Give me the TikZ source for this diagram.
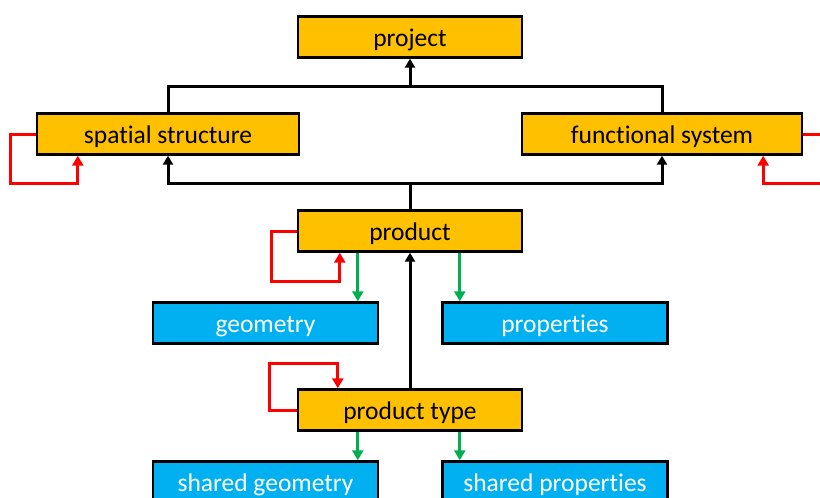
\documentclass[tikz,border=0pt]{standalone}
\usepackage{fontspec}
\setmainfont{Carlito}[Ligatures={NoCommon}]
\usetikzlibrary{arrows.meta,calc}
\definecolor{boxorange}{HTML}{FFC000}
\definecolor{boxblue}{HTML}{00B0F0}
\definecolor{arrgreen}{HTML}{00B050}
\definecolor{arrred}{HTML}{FF0000}
\tikzset{
  orangebox/.style={draw=black, line width=2.4pt, fill=boxorange, minimum width=224pt, minimum height=41pt, inner sep=0pt, text=black, font=\fontsize{25.5}{30}\selectfont, text height=19pt, text depth=1pt},
  widebox/.style={orangebox, minimum width=262pt},
  bluebox/.style={orangebox, fill=boxblue, minimum width=225pt, text=white},
  blackline/.style={draw=black, line width=3pt},
  blackarrow/.style={blackline, -{Triangle[width=10pt,length=9pt]}},
  redarrow/.style={draw=arrred, line width=3pt, -{Triangle[width=11pt,length=10pt]}},
  greenarrow/.style={draw=arrgreen, line width=2.8pt, -{Triangle[width=11pt,length=10pt]}},
}
\begin{document}
\begin{tikzpicture}[x=1pt,y=-1pt]
\useasboundingbox (0,0) rectangle (820,498);
\node[orangebox] (project) at (410,37) {project};
\node[widebox] (spatial) at (168,134) {spatial structure};
\node[widebox, minimum width=280pt] (functional) at (662,134) {functional system};
\node[orangebox] (product) at (410,231) {product};
\node[bluebox] (geometry) at (265.5,323) {geometry};
\node[bluebox] (properties) at (555,323) {properties};
\node[orangebox] (ptype) at (410,410) {product type};
\node[bluebox] (sgeometry) at (265.5,482) {shared geometry};
\node[bluebox] (sproperties) at (555,482) {shared properties};
\coordinate (jtop) at (410,86);
\coordinate (jbot) at (410,183);
% top connectors
\draw[blackline] (spatial.north) |- (jtop) -| (functional.north);
\draw[blackarrow] (jtop) -- (project.south);
% bottom connectors
\draw[blackline] (product.north) -- (jbot);
\draw[blackarrow] (jbot) -| (spatial.south);
\draw[blackarrow] (jbot) -| (functional.south);
\draw[blackarrow] (ptype.north) -- (product.south);
% red self loops
\draw[redarrow] (spatial.west) -- ++(-25,0) |- ($(spatial.south west)+(42,28)$) -- ($(spatial.south west)+(42,0)$);
\draw[redarrow] (functional.east) -- ++(25,0) |- ($(functional.south east)+(-40,28)$) -- ($(functional.south east)+(-40,0)$);
\draw[redarrow] (product.west) -- ++(-25,0) |- ($(product.south west)+(43,29)$) -- ($(product.south west)+(43,0)$);
\draw[redarrow] (ptype.west) -- ++(-27,0) |- ($(ptype.north west)+(41,-25)$) -- ($(ptype.north west)+(41,0)$);
% green arrows
\coordinate (pg) at ($(product.south west)+(61,0)$);
\coordinate (pp) at ($(product.south west)+(163,0)$);
\coordinate (tg) at ($(ptype.south west)+(61,0)$);
\coordinate (tp) at ($(ptype.south west)+(163,0)$);
\draw[greenarrow] (pg) -- (pg |- geometry.north);
\draw[greenarrow] (pp) -- (pp |- properties.north);
\draw[greenarrow] (tg) -- (tg |- sgeometry.north);
\draw[greenarrow] (tp) -- (tp |- sproperties.north);
\end{tikzpicture}
\end{document}
